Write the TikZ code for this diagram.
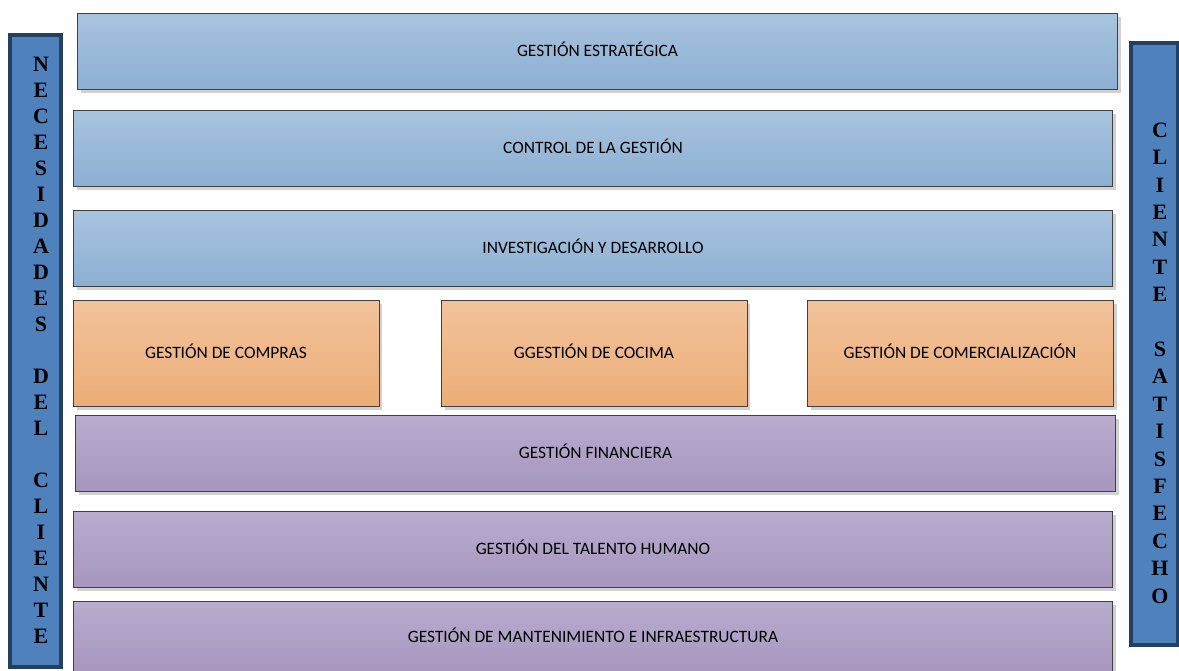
\documentclass[tikz,border=0pt]{standalone}
\usepackage{fontspec}
\setsansfont{Carlito}
\newfontfamily\barfont{Liberation Serif}
\usetikzlibrary{shadows}
\definecolor{blueTop}{HTML}{A8C4DF}
\definecolor{blueBot}{HTML}{8CAFD2}
\definecolor{orangeTop}{HTML}{F2C39B}
\definecolor{orangeBot}{HTML}{ECAD77}
\definecolor{lilaTop}{HTML}{B9ACCE}
\definecolor{lilaBot}{HTML}{A796BF}
\definecolor{boxLine}{HTML}{404040}
\definecolor{barFill}{HTML}{4F81BD}
\definecolor{barLine}{HTML}{243F60}
\begin{document}
\begin{tikzpicture}[x=0.02cm, y=-0.02cm, font=\sffamily\fontsize{9.9}{11}\selectfont,
    every node/.style={outer sep=0pt, inner sep=0pt},
    area/.style={draw=boxLine, line width=0.5pt, text height=0.64em, text depth=0pt, drop shadow={shadow xshift=2pt, shadow yshift=-2pt, fill=black, opacity=0.18}},
    bluebox/.style={area, top color=blueTop, bottom color=blueBot},
    orangebox/.style={area, top color=orangeTop, bottom color=orangeBot, minimum width=6.12cm, minimum height=2.12cm},
    lilabox/.style={area, top color=lilaTop, bottom color=lilaBot},
    sidebar/.style={draw=barLine, line width=2.3pt, fill=barFill},
    sideword/.style={font=\barfont\bfseries\fontsize{12.5}{14.8}\selectfont, align=center}]
    \useasboundingbox (0, 0) rectangle (1179, 670);

    % blue rows
    \node[bluebox, minimum width=20.82cm, minimum height=1.52cm] (estrategica) at (597.5, 51) {GESTIÓN ESTRATÉGICA};
    \node[bluebox, minimum width=20.8cm, minimum height=1.52cm] (control) at (593, 148) {CONTROL DE LA GESTIÓN};
    \node[bluebox, minimum width=20.8cm, minimum height=1.52cm] (investigacion) at (593, 248) {INVESTIGACIÓN Y DESARROLLO};

    % orange row
    \node[orangebox] (compras) at (226, 353) {GESTIÓN DE COMPRAS};
    \node[orangebox] (cocina) at (594, 353) {GGESTIÓN DE COCIMA};
    \node[orangebox] (comercial) at (960, 353) {GESTIÓN DE COMERCIALIZACIÓN};

    % lila rows
    \node[lilabox, minimum width=20.82cm, minimum height=1.52cm] (financiera) at (595.5, 453) {GESTIÓN FINANCIERA};
    \node[lilabox, minimum width=20.8cm, minimum height=1.52cm] (talento) at (593, 549) {GESTIÓN DEL TALENTO HUMANO};
    \node[lilabox, minimum width=20.8cm, minimum height=1.44cm] (mantenimiento) at (593, 637) {GESTIÓN DE MANTENIMIENTO E INFRAESTRUCTURA};

    % side bars
    \node[sidebar, minimum width=1.02cm, minimum height=12.64cm] (necesidades) at (35.5, 351) {};
    \node[sideword] (necesidadesTxt) at (41, 350) {N\\E\\C\\E\\S\\I\\D\\A\\D\\E\\S\\\mbox{}\\D\\E\\L\\\mbox{}\\C\\L\\I\\E\\N\\T\\E};
    \node[sidebar, minimum width=0.94cm, minimum height=12.04cm] (satisfecho) at (1154.5, 344) {};
    \node[sideword, font=\barfont\bfseries\fontsize{12.5}{15.6}\selectfont] (satisfechoTxt) at (1160, 363) {C\\L\\I\\E\\N\\T\\E\\\mbox{}\\S\\A\\T\\I\\S\\F\\E\\C\\H\\O};
\end{tikzpicture}
\end{document}
